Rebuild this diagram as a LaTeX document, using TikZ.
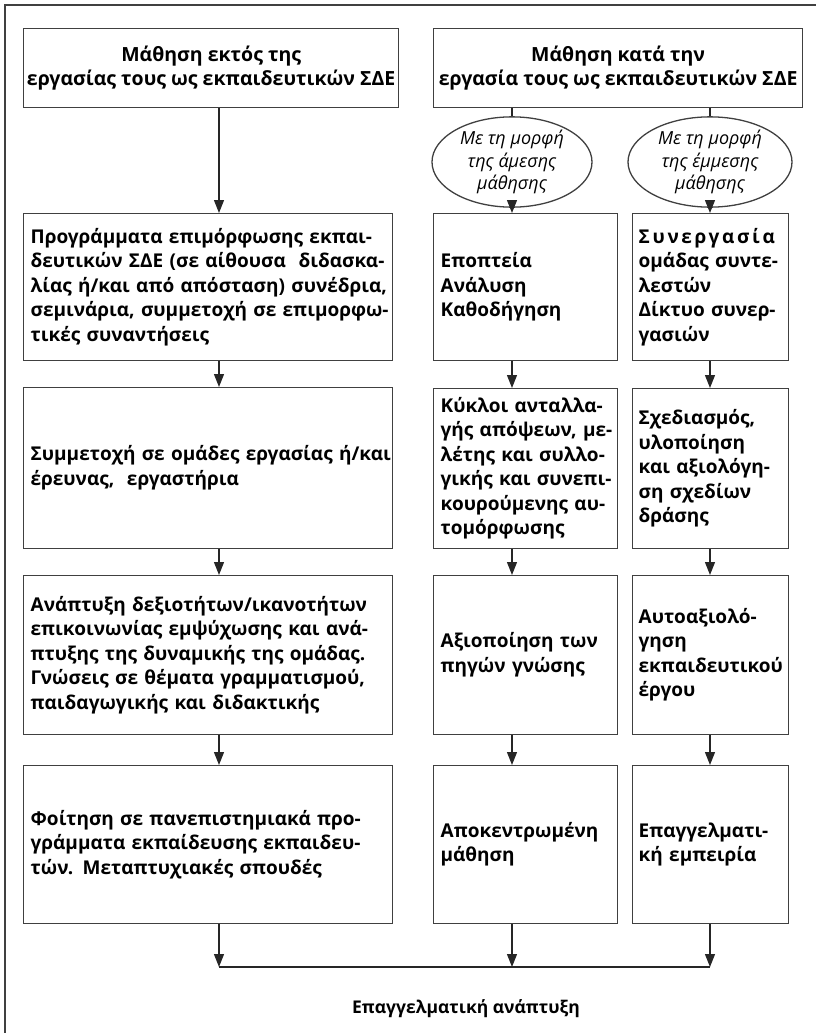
\documentclass[tikz,border=0pt]{standalone}
\usepackage{fontspec}
\setmainfont{Open Sans}
\usetikzlibrary{arrows.meta,shapes.geometric}

\newcommand{\boxfont}{\fontsize{19}{24.5}\selectfont\bfseries}
\newcommand{\headfont}{\fontsize{19.5}{24.5}\selectfont\bfseries}
\newcommand{\ovalfont}{\fontsize{18}{22.5}\selectfont\itshape}
\newcommand{\goalfont}{\fontsize{17.5}{21}\selectfont\bfseries}
% fixed line breaks, no wrapping
\newcommand{\txt}[1]{\renewcommand{\arraystretch}{1}\begin{tabular}{@{}l@{}}#1\end{tabular}}

\tikzset{
  frame/.style={draw=black!75, line width=1.3pt},
  boxl/.style={frame, anchor=north west, align=left, inner xsep=7pt, inner ysep=0pt, font=\boxfont},
  colL/.style={boxl, text width=355pt},
  colM/.style={boxl, text width=170pt},
  colR/.style={boxl, inner xsep=6pt, text width=144pt},
  head/.style={frame, anchor=north west, align=center, minimum width=369pt, minimum height=79pt, font=\headfont},
  oval/.style={frame, ellipse, inner sep=0pt, align=center, minimum height=90pt, font=\ovalfont},
  arr/.style={draw=black!85, line width=1.3pt, -{Triangle[length=13pt,width=10pt]}},
  link/.style={draw=black!85, line width=1.3pt},
}

\begin{document}
\begin{tikzpicture}[x=1pt, y=-1pt]
  \useasboundingbox (0,0) rectangle (816,1033);

  % outer frame (top and left only)
  \draw[frame, line width=1.5pt] (5,1033) -- (5,5) -- (816,5);

  % headers
  \node[head] (h1) at (23,28) {Μάθηση εκτός της\\εργασίας τους ως εκπαιδευτικών ΣΔΕ};
  \node[head] (h2) at (433,28) {Μάθηση κατά την\\εργασία τους ως εκπαιδευτικών ΣΔΕ};

  % forms of learning
  \node[oval, minimum width=160pt] (e1) at (512,162) {Με τη μορφή\\της άμεσης\\μάθησης};
  \node[oval, minimum width=164pt] (e2) at (710,162) {Με τη μορφή\\της έμμεσης\\μάθησης};

  % left column
  \node[colL, minimum height=147pt] (l1) at (23,213) {\txt{Προγράμματα επιμόρφωσης εκπαι-\\δευτικών ΣΔΕ (σε αίθουσα~ διδασκα-\\λίας ή/και από απόσταση) συνέδρια,\\σεμινάρια, συμμετοχή σε επιμορφω-\\τικές συναντήσεις}};
  \node[colL, minimum height=161pt] (l2) at (23,387) {\txt{Συμμετοχή σε ομάδες εργασίας ή/και\\έρευνας,~ εργαστήρια}};
  \node[colL, minimum height=159pt] (l3) at (23,575) {\txt{Ανάπτυξη δεξιοτήτων/ικανοτήτων\\επικοινωνίας εμψύχωσης και ανά-\\πτυξης της δυναμικής της ομάδας.\\Γνώσεις σε θέματα γραμματισμού,\\παιδαγωγικής και διδακτικής}};
  \node[colL, minimum height=158pt] (l4) at (23,765) {\txt{Φοίτηση σε πανεπιστημιακά προ-\\γράμματα εκπαίδευσης εκπαιδευ-\\τών. Μεταπτυχιακές σπουδές}};

  % middle column
  \node[colM, minimum height=147pt] (m1) at (433,213) {\txt{Εποπτεία\\Ανάλυση\\Καθοδήγηση}};
  \node[colM, minimum height=160pt] (m2) at (433,388) {\txt{Κύκλοι ανταλλα-\\γής απόψεων, με-\\λέτης και συλλο-\\γικής και συνεπι-\\κουρούμενης αυ-\\τομόρφωσης}};
  \node[colM, minimum height=159pt] (m3) at (433,575) {\txt{Αξιοποίηση των\\πηγών γνώσης}};
  \node[colM, minimum height=158pt] (m4) at (433,765) {\txt{Αποκεντρωμένη\\μάθηση}};

  % right column
  \node[colR, minimum height=147pt] (r1) at (632,213) {\txt{{\addfontfeature{LetterSpace=14}Συνεργασία}\\ομάδας συντε-\\λεστών\\Δίκτυο συνερ-\\γασιών}};
  \node[colR, minimum height=160pt] (r2) at (632,388) {\txt{Σχεδιασμός,\\υλοποίηση\\και αξιολόγη-\\ση σχεδίων\\δράσης}};
  \node[colR, minimum height=159pt] (r3) at (632,575) {\txt{Αυτοαξιολό-\\γηση\\εκπαιδευτικού\\έργου}};
  \node[colR, minimum height=158pt] (r4) at (632,765) {\txt{Επαγγελματι-\\κή εμπειρία}};

  % result
  \node[font=\goalfont] (goal) at (466,1009) {Επαγγελματική ανάπτυξη};

  % arrows
  \coordinate (xl) at (219,0);
  \coordinate (barl) at (219,967);
  \coordinate (barr) at (710,967);
  \draw[arr] (h1.south -| xl) -- (l1.north -| xl);
  \draw[arr] (l1.south -| xl) -- (l2.north -| xl);
  \draw[arr] (l2.south -| xl) -- (l3.north -| xl);
  \draw[arr] (l3.south -| xl) -- (l4.north -| xl);
  \draw[link] (h2.south -| e1) -- (e1.north);
  \draw[link] (h2.south -| e2) -- (e2.north);
  \draw[arr] (e1.south) -- (m1.north -| e1);
  \draw[arr] (m1.south -| e1) -- (m2.north -| e1);
  \draw[arr] (m2.south -| e1) -- (m3.north -| e1);
  \draw[arr] (m3.south -| e1) -- (m4.north -| e1);
  \draw[arr] (e2.south) -- (r1.north -| e2);
  \draw[arr] (r1.south -| e2) -- (r2.north -| e2);
  \draw[arr] (r2.south -| e2) -- (r3.north -| e2);
  \draw[arr] (r3.south -| e2) -- (r4.north -| e2);

  % joining bar
  \draw[arr] (l4.south -| xl) -- (barl);
  \draw[arr] (m4.south -| e1) -- (barl -| e1);
  \draw[arr] (r4.south -| e2) -- (barr);
  \draw[link] (barl) -- (barr);
\end{tikzpicture}
\end{document}
